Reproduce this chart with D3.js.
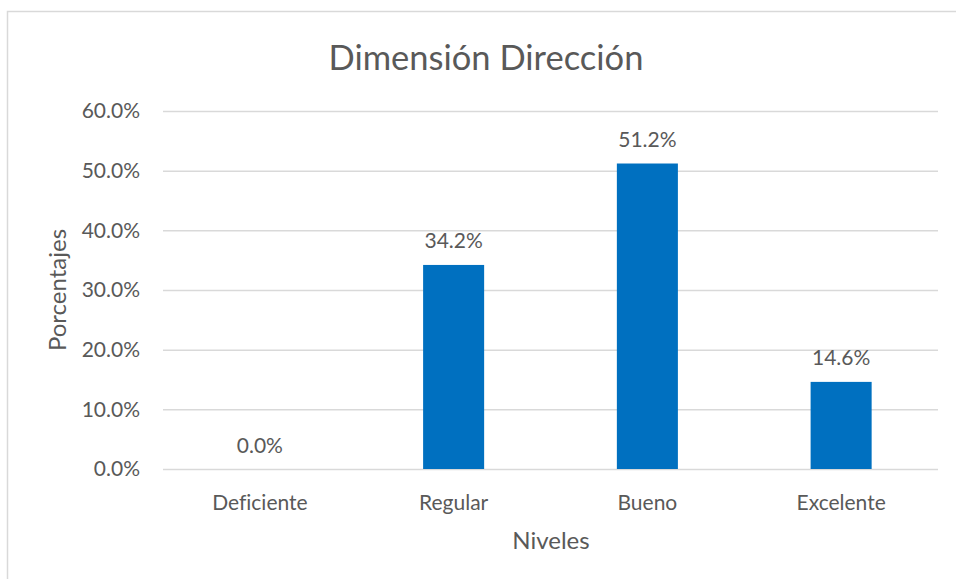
<!DOCTYPE html>
<html><head><meta charset="utf-8">
<script src="https://cdn.jsdelivr.net/npm/d3@7"></script>
<style>body{margin:0;background:#fff}svg{display:block}text{font-family:Lato,"Open Sans",sans-serif;fill:#595959;font-variant-ligatures:none}</style>
</head><body><svg id="c" width="956" height="579"></svg>
<script>
const categories = ["Deficiente","Regular","Bueno","Excelente"];
const values = [0.0, 34.2, 51.2, 14.6];
const yTicks = [0,10,20,30,40,50,60];
const title = "Dimensión Dirección";
const xTitle = "Niveles";
const yTitle = "Porcentajes";

const svg = d3.select("#c");
svg.append("rect").attr("x",7.5).attr("y",11.5).attr("width",960).attr("height",600)
  .attr("fill","#fff").attr("stroke","#d9d9d9").attr("stroke-width",1.5);

const x = d3.scaleBand().domain(categories).range([163,938]).paddingInner(0.685).paddingOuter(0.3425);
const y = d3.scaleLinear().domain([0,60]).range([469,111]);

const gy = svg.append("g").attr("transform","translate(163,0)")
  .call(d3.axisLeft(y).tickValues(yTicks).tickFormat(d=>d.toFixed(1)+"%").tickSize(-775).tickPadding(23));
gy.select(".domain").remove();
gy.selectAll(".tick line").attr("stroke","#d9d9d9").attr("stroke-width",1.5);
gy.selectAll(".tick text").style("font-size","21px").attr("fill","#595959");

const gx = svg.append("g").attr("transform","translate(0,469)")
  .call(d3.axisBottom(x).tickSize(0).tickPadding(26));
gx.select(".domain").remove();
gx.selectAll(".tick text").style("font-size","21px").attr("fill","#595959");

svg.selectAll("rect.bar").data(values).join("rect").attr("class","bar")
  .attr("x",(d,i)=>x(categories[i])).attr("width",x.bandwidth())
  .attr("y",d=>y(d)).attr("height",d=>y(0)-y(d)).attr("fill","#0070C0");

svg.selectAll("text.lbl").data(values).join("text").attr("class","lbl")
  .attr("x",(d,i)=>x(categories[i])+x.bandwidth()/2).attr("y",d=>y(d)-16.5)
  .attr("text-anchor","middle").style("font-size","21px").attr("fill","#404040")
  .text(d=>d.toFixed(1)+"%");

svg.append("text").attr("x",486).attr("y",70).attr("text-anchor","middle")
  .style("font-size","34.5px").text(title);
svg.append("text").attr("x",551).attr("y",549).attr("text-anchor","middle")
  .style("font-size","24px").text(xTitle);
svg.append("text").attr("transform","translate(66,290) rotate(-90)").attr("text-anchor","middle")
  .style("font-size","24px").text(yTitle);
</script></body></html>
